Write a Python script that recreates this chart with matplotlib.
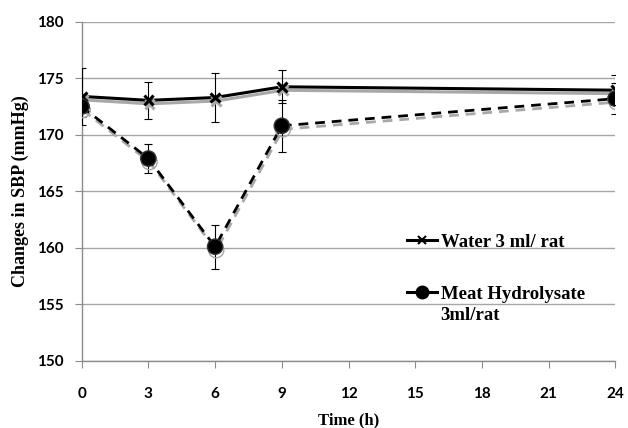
import matplotlib
matplotlib.use("Agg")
import matplotlib.pyplot as plt
import matplotlib.patheffects as pe
from matplotlib.lines import Line2D

time_h = [0, 3, 6, 9, 24]
water = [173.4, 173.05, 173.3, 174.25, 173.95]
water_err = [2.5, 1.65, 2.2, 1.45, 1.3]
meat = [172.5, 167.9, 160.1, 170.8, 173.2]
meat_err = [0.9, 1.3, 1.95, 2.3, 1.4]

labels = ["Water 3 ml/ rat", "Meat Hydrolysate", "3ml/rat"]
xticks = [0, 3, 6, 9, 12, 15, 18, 21, 24]
yticks = [150, 155, 160, 165, 170, 175, 180]

fig = plt.figure(figsize=(6.28, 4.28), dpi=100)
ax = fig.add_axes([0.130, 0.157, 0.850, 0.792])

grey = "#8c8c8c"
shadow = [pe.SimpleLineShadow(offset=(0.8, -2.5), shadow_color="#a8a8a8", alpha=1.0), pe.Normal()]

ax.errorbar(time_h, water, yerr=water_err, fmt="none", ecolor="black",
            elinewidth=0.8, capsize=3, capthick=0.8, zorder=3)
ax.errorbar(time_h, meat, yerr=meat_err, fmt="none", ecolor="black",
            elinewidth=0.8, capsize=3, capthick=0.8, zorder=3)

lw, = ax.plot(time_h, water, color="black", lw=2.2, marker="x", ms=7,
              mew=2.2, zorder=4)
lw.set_path_effects(shadow)
lm, = ax.plot(time_h, meat, color="black", lw=2.0, ls=(0, (3.5, 2.5)),
              marker="o", ms=11, mfc="black", mec="#333333", zorder=5)
lm.set_path_effects(shadow)

ax.set_xlim(0, 24)
ax.set_ylim(150, 180)
ax.set_xticks(xticks)
ax.set_yticks(yticks)
ax.set_xticklabels([str(v) for v in xticks], fontfamily="Lato", fontweight="bold", fontsize=11)
ax.set_yticklabels([str(v) for v in yticks], fontfamily="Lato", fontweight="bold", fontsize=11)
ax.tick_params(axis="x", length=5, color=grey, pad=14)
ax.tick_params(axis="y", length=5, color=grey, pad=8)
ax.grid(axis="y", color="#a6a6a6", lw=1.0)
ax.set_axisbelow(True)
for s in ["top", "right"]:
    ax.spines[s].set_visible(False)
for s in ["left", "bottom"]:
    ax.spines[s].set_color(grey)
    ax.spines[s].set_linewidth(1.0)

ax.set_xlabel("Time (h)", fontfamily="Liberation Serif", fontweight="bold", fontsize=12, labelpad=8)
ax.set_ylabel("Changes in SBP (mmHg)", fontfamily="Liberation Serif", fontweight="bold", fontsize=13, labelpad=6)

h1 = Line2D([], [], color="black", lw=2.2, marker="x", ms=6, mew=1.5)
h2 = Line2D([], [], color="black", lw=2.2, marker="o", ms=9)
leg = ax.legend([h1, h2], labels[:2], loc="upper left", bbox_to_anchor=(390 / 628, 1 - 217 / 428),
                bbox_transform=fig.transFigure, frameon=False,
                prop={"family": "Liberation Serif", "weight": "bold", "size": 13.5},
                handlelength=1.6, handletextpad=0.2, labelspacing=1.85)
ann = ax.annotate(labels[2], xy=(0, 0), xycoords=leg.get_texts()[1], xytext=(0, -3),
                  textcoords="offset points", ha="left", va="top",
                  fontfamily="Liberation Serif", fontweight="bold", fontsize=13.5)
ann.set_zorder(10)

fig.savefig("out.png", dpi=100)
